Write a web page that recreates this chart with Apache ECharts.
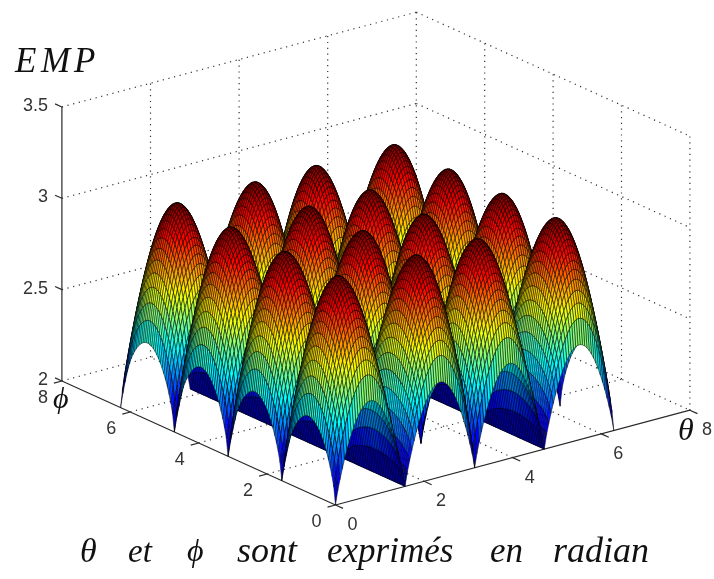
<!DOCTYPE html>
<html><head><meta charset="utf-8">
<style>html,body{margin:0;padding:0;background:#fff}#c{width:714px;height:579px}</style>
<script src="https://cdn.jsdelivr.net/npm/echarts@6/dist/echarts.min.js"></script></head>
<body><div id="c"></div>
<script>
// Height profiles: one lobe of the surface, repeated along each axis.
const phiLobe = [0,.2256,.3528,.4566,.5462,.6250,.6949,.7568,.8112,.8585,.8988,.9323,.9591,.9791,.9925,.9992,.9992,.9925,.9791,.9591,.9323,.8988,.8585,.8112,.7568,.6949,.6250,.5462,.4566,.3528,.2256];
const thetaLobe = [0,.1427,.2559,.3588,.4535,.5408,.6214,.6947,.7606,.8191,.8697,.9125,.9469,.9729,.9902,.9989,.9989,.9902,.9729,.9469,.9125,.8697,.8191,.7606,.6947,.6214,.5408,.4535,.3588,.2559,.1427];
const archLobe = [1,.9987,.9949,.9885,.9795,.9681,.9541,.9378,.9190,.8978,.8744,.8486,.8208,.7908,.7588,.7248,.6889,.6514,.6121,.5713,.5290,.4853,.4404,.3944,.3473,.2994,.2507,.2013,.1514,.1012,.0507,0,.0507,.1012,.1514,.2013,.2507,.2994,.3473,.3944,.4404,.4853,.5290,.5713,.6121,.6514,.6889,.7248,.7588,.7908,.8208,.8486,.8744,.8978,.9190,.9378,.9541,.9681,.9795,.9885,.9949,.9987];
const archHeight = 0.42, ridgeHeight = 0.52, domeHeight = 0.31;
const zFloor = 2;
const gridSteps = 124;
const gridStep = 0.05067;
const zTicks = [2, 2.5, 3, 3.5];
const planTicks = [0, 2, 4, 6, 8];
const jetStops = [[0,0,0,143],[1/8,0,0,255],[3/8,0,255,255],[5/8,255,255,0],[7/8,255,0,0],[1,128,0,0]];

const Z = [];
for (let i = 0; i <= gridSteps; i++) { const r = [];
  for (let j = 0; j <= gridSteps; j++) {
    const pf = phiLobe[j % phiLobe.length], tf = thetaLobe[i % thetaLobe.length], af = archLobe[i % archLobe.length];
    r.push(zFloor + archHeight*af*pf + tf*(ridgeHeight + domeHeight*pf));
  }
  Z.push(r); }
let zMax = 0, zMin = 99;
Z.forEach(r => r.forEach(v => { zMax = Math.max(zMax, v); zMin = Math.min(zMin, v); }));

const view = { ox: 335.5, oy: 505, tx: 44.3, ty: -11.85, px: -34.2, py: -15.5, zy: -182.7 };
function proj(t, p, z) { return [view.ox + view.tx*t + view.px*p, view.oy + view.ty*t + view.py*p + view.zy*(z-2)]; }

function jet(v) {
  const f = Math.min(1, Math.floor(v*64)/63);
  for (let k = 1; k < jetStops.length; k++) if (f <= jetStops[k][0]) {
    const a = jetStops[k-1], b = jetStops[k], u = (f-a[0])/(b[0]-a[0]);
    return 'rgb(' + [1,2,3].map(c => Math.round(a[c]+(b[c]-a[c])*u)).join(',') + ')';
  }
  return 'rgb(128,0,0)';
}

const cells = [];
for (let i = gridSteps-1; i >= 0; i--) for (let j = gridSteps-1; j >= 0; j--) cells.push([i, j, (Z[i][j]+Z[i+1][j]+Z[i][j+1]+Z[i+1][j+1])/4]);

const segs = [];
planTicks.forEach(t => { if (t>0 && t<8) segs.push([t,0,2,t,8,2,'d']); if (t>0) segs.push([t,8,2,t,8,3.5,'d']); });
planTicks.forEach(p => { if (p>0 && p<8) segs.push([0,p,2,8,p,2,'d']); if (p<8) segs.push([8,p,2,8,p,3.5,'d']); });
zTicks.forEach(z => { segs.push([0,8,z,8,8,z,'d']); segs.push([8,8,z,8,0,z,'d']); });
segs.push([0,8,2,0,8,3.5,'s'],[0,8,2,0,0,2,'s'],[0,0,2,8,0,2,'s']);
zTicks.forEach(z => segs.push([0,8,z,0,8.2,z,'s']));
planTicks.forEach(p => segs.push([0,p,2,-0.18,p,2,'s']));
planTicks.forEach(t => segs.push([t,0,2,t,-0.22,2,'s']));

const tickTexts = [];
zTicks.forEach(z => tickTexts.push([0,8,z,String(z),-14,-1,'right']));
planTicks.forEach(p => tickTexts.push([0,p,2,String(p),-19,17,'center']));
planTicks.forEach(t => tickTexts.push([t,0,2,String(t),17,20,'center']));

const chart = echarts.init(document.getElementById('c'), null, {renderer:'canvas'});
const ax = (m, inv) => ({type:'value', min:0, max:m, inverse:inv, show:false});
chart.setOption({
  animation:false, backgroundColor:'#fff',
  grid:{left:0,top:0,width:714,height:579},
  xAxis:ax(714,false), yAxis:ax(579,true),
  series:[
   {type:'custom',coordinateSystem:'cartesian2d',clip:false,silent:true,progressive:0,data:segs,z:1,
    renderItem:(pr,api)=>{const s=segs[pr.dataIndex];
      const a=api.coord(proj(s[0],s[1],s[2])),b=api.coord(proj(s[3],s[4],s[5]));
      return {type:'line',shape:{x1:a[0],y1:a[1],x2:b[0],y2:b[1]},
        style:s[6]==='d'?{stroke:'#333',lineWidth:1.2,lineDash:[1.2,4.6],fill:null}:{stroke:'#2a2a2a',lineWidth:1.2,fill:null}};}},
   {type:'custom',coordinateSystem:'cartesian2d',clip:false,silent:true,progressive:0,data:cells,z:2,
    renderItem:(pr,api)=>{const c=cells[pr.dataIndex],i=c[0],j=c[1];
      const P=(a,b)=>api.coord(proj(a*gridStep,b*gridStep,Z[a][b]));
      return {type:'polygon',shape:{points:[P(i,j),P(i+1,j),P(i+1,j+1),P(i,j+1)]},
        style:{fill:jet((c[2]-zMin)/(zMax-zMin)),stroke:'#000',lineWidth:0.5}};}},
   {type:'custom',coordinateSystem:'cartesian2d',clip:false,silent:true,progressive:0,data:tickTexts,z:3,
    renderItem:(pr,api)=>{const s=tickTexts[pr.dataIndex],a=api.coord(proj(s[0],s[1],s[2]));
      return {type:'text',style:{text:s[3],x:a[0]+s[4],y:a[1]+s[5],align:s[6],verticalAlign:'middle',fill:'#333',font:'18px "Liberation Sans"'}};}}
  ],
  graphic:[
    ...[['E',15,63,35],['M',41,63,35],['P',74,63,35],['θ',80,553,34],['et',128,553,33],['ϕ',187,553,32],['sont',237,553,36],['exprimés',327,553,35],['en',490,553,35],['radian',553,553,36],['θ',678,432,32],['ϕ',53,400,30]].map(w=>({type:'text',z:10,left:w[1],top:w[2]-w[3]/2,style:{text:w[0],fill:'#111',font:'italic '+w[3]+'px "Liberation Serif"'}}))
  ]
});
</script></body></html>
